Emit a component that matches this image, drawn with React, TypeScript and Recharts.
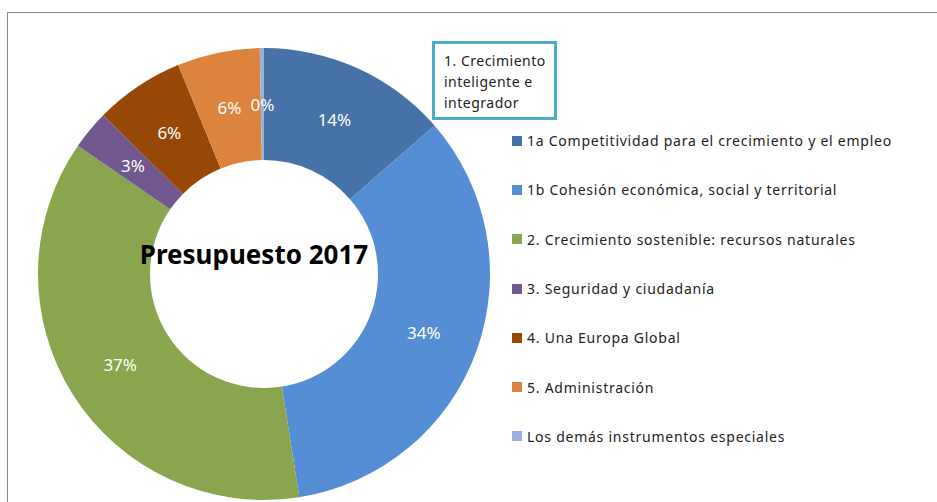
import { Legend, Pie, PieChart, Cell } from "recharts";

const categories = [
  "1a Competitividad para el crecimiento y el empleo",
  "1b Cohesión económica, social y territorial",
  "2. Crecimiento sostenible: recursos naturales",
  "3. Seguridad y ciudadanía",
  "4. Una Europa Global",
  "5. Administración",
  "Los demás instrumentos especiales",
];
const shares = [13.6, 33.9, 37.1, 2.8, 6.4, 5.9, 0.3];
const sliceLabels = ["14%", "34%", "37%", "3%", "6%", "6%", "0%"];
const colors = ["#4672A8", "#558ED5", "#89A54E", "#71588F", "#974706", "#DC843E", "#9BB0D8"];

const title = "Presupuesto 2017";
const calloutLines = ["1. Crecimiento", "inteligente e", "integrador"];

const data = categories.map((name, i) => ({ name, value: shares[i], label: sliceLabels[i] }));

const FONT = "'Noto Sans', 'Open Sans', sans-serif";
const RAD = Math.PI / 180;

function SliceLabel(props: any) {
  const { cx, cy, midAngle, innerRadius, outerRadius, index } = props;
  const r = (innerRadius + outerRadius) / 2;
  const x = cx + r * Math.cos(-midAngle * RAD);
  const y = cy + r * Math.sin(-midAngle * RAD);
  return (
    <text x={x} y={y} fill="#fff" fontSize={17} fontFamily={FONT} textAnchor="middle" dominantBaseline="central">
      {sliceLabels[index]}
    </text>
  );
}

function LegendList(props: any) {
  const items = props.payload || [];
  return (
    <div style={{ fontFamily: FONT, fontSize: 14, letterSpacing: 0.75, color: "#222" }}>
      {items.map((it: any, i: number) => (
        <div key={i} style={{ display: "flex", alignItems: "center", height: 49.3 }}>
          <span style={{ width: 10, height: 10, background: it.color, marginRight: 5, display: "inline-block" }} />
          <span>{it.value}</span>
        </div>
      ))}
    </div>
  );
}

export default function App() {
  return (
    <div style={{ position: "absolute", left: 0, top: 0, width: 937, height: 502, background: "#fff", overflow: "hidden" }}>
      <div style={{ position: "absolute", left: 7, top: 12, width: 940, height: 500, borderTop: "1.5px solid #8a8a8a", borderLeft: "1.5px solid #8a8a8a" }} />
      <div style={{ position: "absolute", left: 0, top: 0 }}>
        <PieChart width={937} height={502}>
          <Pie
            data={data}
            dataKey="value"
            nameKey="name"
            cx={259}
            cy={269}
            innerRadius={114}
            outerRadius={226}
            startAngle={90}
            endAngle={-270}
            stroke="none"
            label={SliceLabel}
            labelLine={false}
            isAnimationActive={false}
          >
            {data.map((d, i) => (
              <Cell key={d.name} fill={colors[i]} />
            ))}
          </Pie>
          <Legend
            layout="vertical"
            content={LegendList}
            wrapperStyle={{ position: "absolute", left: 512, top: 116, width: 425 }}
          />
        </PieChart>
      </div>
      <div style={{ position: "absolute", left: 104, top: 236, width: 300, textAlign: "center", fontFamily: FONT, fontWeight: 700, fontSize: 26, letterSpacing: 0, color: "#000" }}>
        {title}
      </div>
      <div style={{ position: "absolute", left: 432, top: 41, width: 110, height: 67, border: "3px solid #4BACC6", background: "#fff", fontFamily: FONT, fontSize: 14, letterSpacing: 0.5, lineHeight: "21px", color: "#222", padding: "6px 0 0 9px", boxSizing: "content-box", whiteSpace: "nowrap" }}>
        {calloutLines.map((l) => (
          <div key={l}>{l}</div>
        ))}
      </div>
    </div>
  );
}
